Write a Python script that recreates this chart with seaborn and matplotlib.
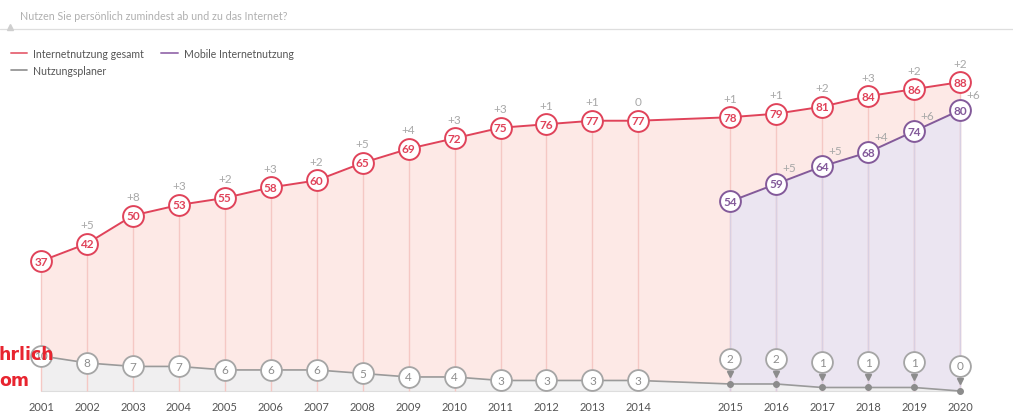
import matplotlib
matplotlib.use('Agg')
import matplotlib.pyplot as plt
import matplotlib.transforms as mtransforms
from matplotlib.lines import Line2D
import numpy as np
import pandas as pd
import seaborn as sns

# data
years = [2001, 2002, 2003, 2004, 2005, 2006, 2007, 2008, 2009, 2010,
         2011, 2012, 2013, 2014, 2015, 2016, 2017, 2018, 2019, 2020]
gesamt = [37, 42, 50, 53, 55, 58, 60, 65, 69, 72, 75, 76, 77, 77, 78, 79, 81, 84, 86, 88]
mobile_years = [2015, 2016, 2017, 2018, 2019, 2020]
mobile = [54, 59, 64, 68, 74, 80]
planer = [10, 8, 7, 7, 6, 6, 6, 5, 4, 4, 3, 3, 3, 3, 2, 2, 1, 1, 1, 0]

title = 'Nutzen Sie persönlich zumindest ab und zu das Internet?'
labels = ['Internetnutzung gesamt', 'Mobile Internetnutzung', 'Nutzungsplaner']

RED = '#e0435a'
RED_FILL = '#fde9e6'
RED_DROP = '#f5c8c4'
PURPLE = '#835a9a'
PURPLE_FILL = '#ebe5f1'
PURPLE_DROP = '#d8cfe2'
GREY = '#9a9a9a'
GREY_FILL = '#f0eff0'
DELTA = '#a8a8a8'


def xpos(y):
    # 2015 onwards is shifted by one slot (gap in the original)
    return y - 2001 if y <= 2014 else y - 2000


df = pd.DataFrame({'year': years, 'gesamt': gesamt, 'planer': planer})
df['x'] = [xpos(y) for y in years]
dm = pd.DataFrame({'year': mobile_years, 'mobile': mobile})
dm['x'] = [xpos(y) for y in mobile_years]

sns.set_theme(style='white')
plt.rcParams['font.family'] = ['Lato', 'DejaVu Sans']

W, H = 1013, 414
fig = plt.figure(figsize=(W / 100, H / 100), dpi=100)
ax = fig.add_axes([0, 0, 1, 1])

# pixel mapping: x0=41px, 45.95px per slot ; y0=392px, 3.51px per unit
sx, x0 = 45.95, 41
sy, y0 = 3.51, 392
ax.set_xlim(-x0 / sx, (W - x0) / sx)
ax.set_ylim((y0 - H) / sy, y0 / sy)
ax.axis('off')

# fills
ax.fill_between(df['x'], 0, df['gesamt'], color=RED_FILL, lw=0, zorder=1)
ax.fill_between(dm['x'], 0, dm['mobile'], color=PURPLE_FILL, lw=0, zorder=2)
ax.fill_between(df['x'], 0, df['planer'], color=GREY_FILL, lw=0, zorder=3)
ax.plot([df['x'].min(), df['x'].max()], [0, 0], color='#dddddd', lw=0.8, zorder=3)

# drop lines
ax.vlines(df['x'], 0, df['gesamt'], color=RED_DROP, lw=1, zorder=4)
ax.vlines(dm['x'], 0, dm['mobile'], color=PURPLE_DROP, lw=1, zorder=4)

# lines with circles
sns.lineplot(data=df, x='x', y='gesamt', color=RED, lw=1.4, marker='o', markersize=15,
             mfc='white', mec=RED, mew=1.4, ax=ax, zorder=6)
sns.lineplot(data=dm, x='x', y='mobile', color=PURPLE, lw=1.4, marker='o', markersize=15,
             mfc='white', mec=PURPLE, mew=1.4, ax=ax, zorder=6)
sns.lineplot(data=df, x='x', y='planer', color=GREY, lw=1.2, ax=ax, zorder=5)

early = df[df['year'] <= 2014]
late = df[df['year'] >= 2015]
ax.plot(early['x'], early['planer'], ls='none', marker='o', markersize=15,
        mfc='white', mec='#a5a5a5', mew=1.3, zorder=6)
ax.plot(late['x'], late['planer'], ls='none', marker='o', markersize=4,
        color='#8c8c8c', zorder=6)
up_circ = mtransforms.offset_copy(ax.transData, fig=fig, y=25, units='dots')
up_tri = mtransforms.offset_copy(ax.transData, fig=fig, y=10, units='dots')
ax.plot(late['x'], late['planer'], ls='none', marker='o', markersize=15,
        mfc='white', mec='#a5a5a5', mew=1.3, transform=up_circ, zorder=6)
ax.plot(late['x'], late['planer'], ls='none', marker='v', markersize=5,
        color='#8c8c8c', transform=up_tri, zorder=6)

# value labels
for x, v in zip(df['x'], df['gesamt']):
    ax.text(x, v, str(v), ha='center', va='center', fontsize=8.5, fontweight='bold',
            color=RED, zorder=7)
for x, v in zip(dm['x'], dm['mobile']):
    ax.text(x, v, str(v), ha='center', va='center', fontsize=8.5, fontweight='bold',
            color=PURPLE, zorder=7)
for x, v in zip(early['x'], early['planer']):
    ax.text(x, v, str(v), ha='center', va='center', fontsize=8.5, color='#8e8e8e', zorder=7)
for x, v in zip(late['x'], late['planer']):
    ax.text(x, v, str(v), ha='center', va='center', fontsize=8.5, color='#8e8e8e',
            transform=up_circ, zorder=7)

# deltas
def fmt(d):
    return '+%d' % d if d > 0 else str(d)

up_red = mtransforms.offset_copy(ax.transData, fig=fig, y=19, units='dots')
for i in range(1, len(gesamt)):
    ax.text(df['x'][i], gesamt[i], fmt(gesamt[i] - gesamt[i - 1]), ha='center',
            va='center', fontsize=8.5, color=DELTA, transform=up_red, zorder=7)
up_pur = mtransforms.offset_copy(ax.transData, fig=fig, x=13, y=16, units='dots')
for i in range(1, len(mobile)):
    ax.text(dm['x'][i], mobile[i], fmt(mobile[i] - mobile[i - 1]), ha='center',
            va='center', fontsize=8.5, color=DELTA, transform=up_pur, zorder=7)

# year labels
for x, y in zip(df['x'], years):
    ax.text(x, (y0 - 408) / sy, str(y), ha='center', va='center', fontsize=8, color='#555555')

# header
fig.text(20 / W, 1 - 17 / H, title, fontsize=7.75, color='#b0b0b0', va='center', ha='left')
fig.add_artist(Line2D([0, 1], [1 - 30 / H, 1 - 30 / H], color='#dedede', lw=0.9))
fig.add_artist(Line2D([10 / W], [1 - 28 / H], marker='^', markersize=4, color='#cfcfcf'))

# legend
handles = [Line2D([], [], color='#e8717f', lw=1.4),
           Line2D([], [], color='#8e8e8e', lw=1.2),
           Line2D([], [], color='#a07ab4', lw=1.4)]
fig.legend(handles, [labels[0], labels[2], labels[1]], ncol=2, frameon=False,
           loc='upper left', bbox_to_anchor=(1 / W, 1 - 39 / H), fontsize=7.6,
           handlelength=1.6, handletextpad=0.55, columnspacing=1.6, labelspacing=0.6,
           labelcolor='#555555')

# watermark fragments at the left edge
fig.text(-1 / W, 1 - 355 / H, 'hrlich', fontsize=12.5, fontweight='bold', color='#e8242f',
         va='center', ha='left', family=['DejaVu Sans'], zorder=10)
fig.text(-1 / W, 1 - 381 / H, 'om', fontsize=12.5, fontweight='bold', color='#e8242f',
         va='center', ha='left', family=['DejaVu Sans'], zorder=10)

fig.savefig('out.png', dpi=100)
